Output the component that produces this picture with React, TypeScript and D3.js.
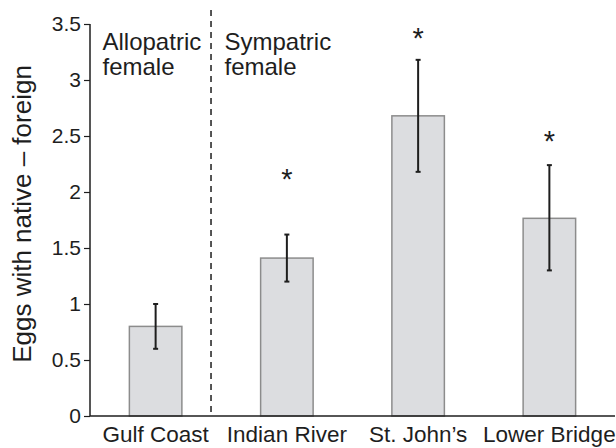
import React, { useRef, useEffect } from "react";
import * as d3 from "d3";

const categories = ["Gulf Coast", "Indian River", "St. John\u2019s", "Lower Bridge"];
const means = [0.8, 1.41, 2.68, 1.765];
const errLow = [0.6, 1.2, 2.18, 1.3];
const errHigh = [1.0, 1.62, 3.18, 2.24];
// asterisk positions (data units), null = no asterisk
const starAt = [null, 2.17, 3.43, 2.51];
const yTicks = [0, 0.5, 1, 1.5, 2, 2.5, 3, 3.5];

const FONT = "'Liberation Sans', Arial, Helvetica, sans-serif";

const App = () => {
  const svgRef = useRef(null);
  const width = 616;
  const height = 448;

  useEffect(() => {
    const svg = d3.select(svgRef.current);
    svg.selectAll("*").remove();

    const margin = { top: 24, right: 1, bottom: 32, left: 90 };

    const x = d3
      .scaleBand()
      .domain(categories)
      .range([margin.left, width - margin.right])
      .paddingInner(0.6)
      .paddingOuter(0.3);

    const y = d3
      .scaleLinear()
      .domain([0, 3.5])
      .range([height - margin.bottom, margin.top]);

    const ink = "#1e1e1e";

    // y axis
    const yAxis = svg
      .append("g")
      .attr("transform", `translate(${margin.left},0)`)
      .call(d3.axisLeft(y).tickValues(yTicks).tickSize(6).tickPadding(3).tickFormat(d3.format("")));
    yAxis.select(".domain").attr("stroke", ink).attr("stroke-width", 1.5).attr("d", `M0,${y(3.5)}V${y(0)}`);
    yAxis.selectAll(".tick line").attr("stroke", ink).attr("stroke-width", 1.2);
    yAxis
      .selectAll(".tick text")
      .attr("fill", ink)
      .attr("font-family", FONT)
      .attr("font-size", 21);

    // divider line between allopatric and sympatric
    const gapStart = x(categories[0]) + x.bandwidth();
    const gapEnd = x(categories[1]);
    const divX = gapStart + (gapEnd - gapStart) * 0.37;
    svg
      .append("line")
      .attr("x1", divX)
      .attr("x2", divX)
      .attr("y1", 10)
      .attr("y2", y(0))
      .attr("stroke", ink)
      .attr("stroke-width", 1.5)
      .attr("stroke-dasharray", "6,5");

    // bars
    svg
      .selectAll(".bar")
      .data(categories)
      .enter()
      .append("rect")
      .attr("class", "bar")
      .attr("x", (d) => x(d))
      .attr("y", (d, i) => y(means[i]))
      .attr("width", x.bandwidth())
      .attr("height", (d, i) => y(0) - y(means[i]))
      .attr("fill", "#dcdde0")
      .attr("stroke", "#8c8c8c")
      .attr("stroke-width", 1.5);

    // error bars
    const eb = svg.append("g").attr("stroke", ink).attr("stroke-width", 2);
    categories.forEach((c, i) => {
      const cx = x(c) + x.bandwidth() / 2;
      eb.append("line").attr("x1", cx).attr("x2", cx).attr("y1", y(errLow[i])).attr("y2", y(errHigh[i]));
      [errLow[i], errHigh[i]].forEach((v) => {
        eb.append("line").attr("x1", cx - 2.5).attr("x2", cx + 2.5).attr("y1", y(v)).attr("y2", y(v));
      });
    });

    // asterisks
    categories.forEach((c, i) => {
      if (starAt[i] == null) return;
      svg
        .append("text")
        .attr("x", x(c) + x.bandwidth() / 2)
        .attr("y", y(starAt[i]) + 16)
        .attr("text-anchor", "middle")
        .attr("font-family", FONT)
        .attr("font-size", 29)
        .attr("fill", ink)
        .text("*");
    });

    // x axis
    svg
      .append("line")
      .attr("x1", margin.left)
      .attr("x2", width - margin.right)
      .attr("y1", y(0))
      .attr("y2", y(0))
      .attr("stroke", ink)
      .attr("stroke-width", 1.5);

    svg
      .selectAll(".xlabel")
      .data(categories)
      .enter()
      .append("text")
      .attr("class", "xlabel")
      .attr("x", (d) => x(d) + x.bandwidth() / 2)
      .attr("y", 441.5)
      .attr("text-anchor", "middle")
      .attr("font-family", FONT)
      .attr("font-size", 22.5)
      .attr("fill", ink)
      .text((d) => d);

    // group annotations
    const ann = [
      { x: margin.left + 12.5, lines: ["Allopatric", "female"] },
      { x: divX + 13.5, lines: ["Sympatric", "female"] },
    ];
    ann.forEach((a) => {
      a.lines.forEach((t, k) => {
        svg
          .append("text")
          .attr("x", a.x)
          .attr("y", 50 + k * 25)
          .attr("font-family", FONT)
          .attr("font-size", 24)
          .attr("fill", ink)
          .text(t);
      });
    });

    // y label
    svg
      .append("text")
      .attr("transform", `translate(31,214) rotate(-90)`)
      .attr("text-anchor", "middle")
      .attr("font-family", FONT)
      .attr("font-size", 26)
      .attr("fill", ink)
      .text("Eggs with native \u2013 foreign");
  }, []);

  return (
    <svg
      ref={svgRef}
      width={width}
      height={height}
      style={{ position: "absolute", left: 0, top: 0, background: "#fff" }}
    />
  );
};

export default App;
